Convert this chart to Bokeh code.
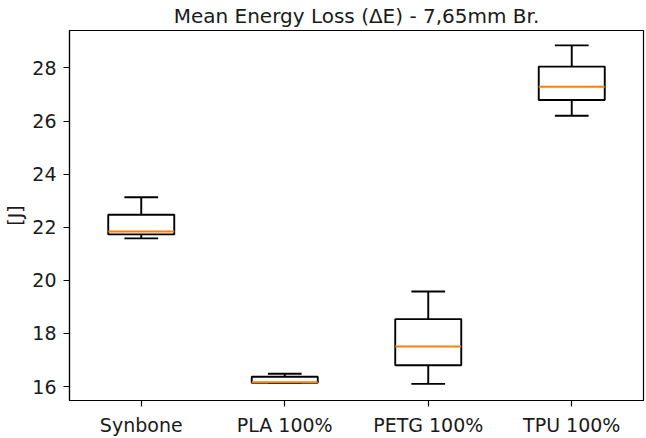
from bokeh.plotting import figure
from bokeh.models import ColumnDataSource, FixedTicker, FactorRange, Range1d
from bokeh.transform import dodge
from bokeh.embed import file_html
from bokeh.resources import INLINE

# Energy loss statistics per material (J)
categories = ["Synbone", "PLA 100%", "PETG 100%", "TPU 100%"]
whisker_low = [21.58, 16.14, 16.10, 26.20]
q1 = [21.73, 16.14, 16.80, 26.79]
median = [21.84, 16.16, 17.51, 27.29]
q3 = [22.47, 16.37, 18.54, 28.05]
whisker_high = [23.13, 16.48, 19.58, 28.85]
y_ticks = [16, 18, 20, 22, 24, 26, 28]

FONT = "DejaVu Sans"
BOX_W = 0.46
CAP_W = 0.235
LW = 1.9

src = ColumnDataSource(dict(cat=categories, lo=whisker_low, q1=q1, med=median,
                            q3=q3, hi=whisker_high))

p = figure(width=646, height=438, output_backend="svg", toolbar_location=None,
           x_range=FactorRange(factors=categories, range_padding=0),
           y_range=Range1d(15.475, 29.41),
           title="Mean Energy Loss (ΔE) - 7,65mm Br.",
           min_border_left=69, min_border_right=3, min_border_top=30,
           min_border_bottom=36)

# whiskers
p.segment(x0="cat", x1="cat", y0="q3", y1="hi", source=src, line_color="black", line_width=LW)
p.segment(x0="cat", x1="cat", y0="lo", y1="q1", source=src, line_color="black", line_width=LW)
# caps
p.segment(x0=dodge("cat", -CAP_W / 2, range=p.x_range), x1=dodge("cat", CAP_W / 2, range=p.x_range),
          y0="hi", y1="hi", source=src, line_color="black", line_width=LW)
p.segment(x0=dodge("cat", -CAP_W / 2, range=p.x_range), x1=dodge("cat", CAP_W / 2, range=p.x_range),
          y0="lo", y1="lo", source=src, line_color="black", line_width=LW)
# boxes
p.vbar(x="cat", width=BOX_W, bottom="q1", top="q3", source=src, fill_color="white",
       line_color="black", line_width=LW)
# medians
p.segment(x0=dodge("cat", -BOX_W / 2, range=p.x_range), x1=dodge("cat", BOX_W / 2, range=p.x_range),
          y0="med", y1="med", source=src, line_color="#ff7f0e", line_width=LW)

p.title.align = "center"
p.title.vertical_align = "top"
p.title.text_font = FONT
p.title.text_font_size = "20px"
p.title.text_font_style = "normal"
p.title.text_color = "#1a1a1a"
p.title.offset = 0
p.title.standoff = 2

p.xgrid.visible = False
p.ygrid.visible = False
p.outline_line_color = "black"
p.outline_line_width = 1.2
p.background_fill_color = "white"
p.border_fill_color = "white"

p.yaxis.ticker = FixedTicker(ticks=y_ticks)
p.yaxis.axis_label = "[J]"
p.yaxis.axis_label_text_font = FONT
p.yaxis.axis_label_text_font_size = "19px"
p.yaxis.axis_label_text_font_style = "normal"
p.yaxis.axis_label_text_color = "#1a1a1a"
p.yaxis.axis_label_standoff = 3

for ax in (p.xaxis[0], p.yaxis[0]):
    ax.axis_line_color = "black"
    ax.axis_line_width = 1.2
    ax.major_tick_line_color = "black"
    ax.major_tick_line_width = 1.2
    ax.major_tick_in = 0
    ax.major_tick_out = 6
    ax.minor_tick_line_color = None
    ax.major_label_text_font = FONT
    ax.major_label_text_font_size = "19px"
    ax.major_label_text_color = "#1a1a1a"
    ax.major_label_standoff = 7

open("out.html", "w").write(file_html(p, INLINE))
